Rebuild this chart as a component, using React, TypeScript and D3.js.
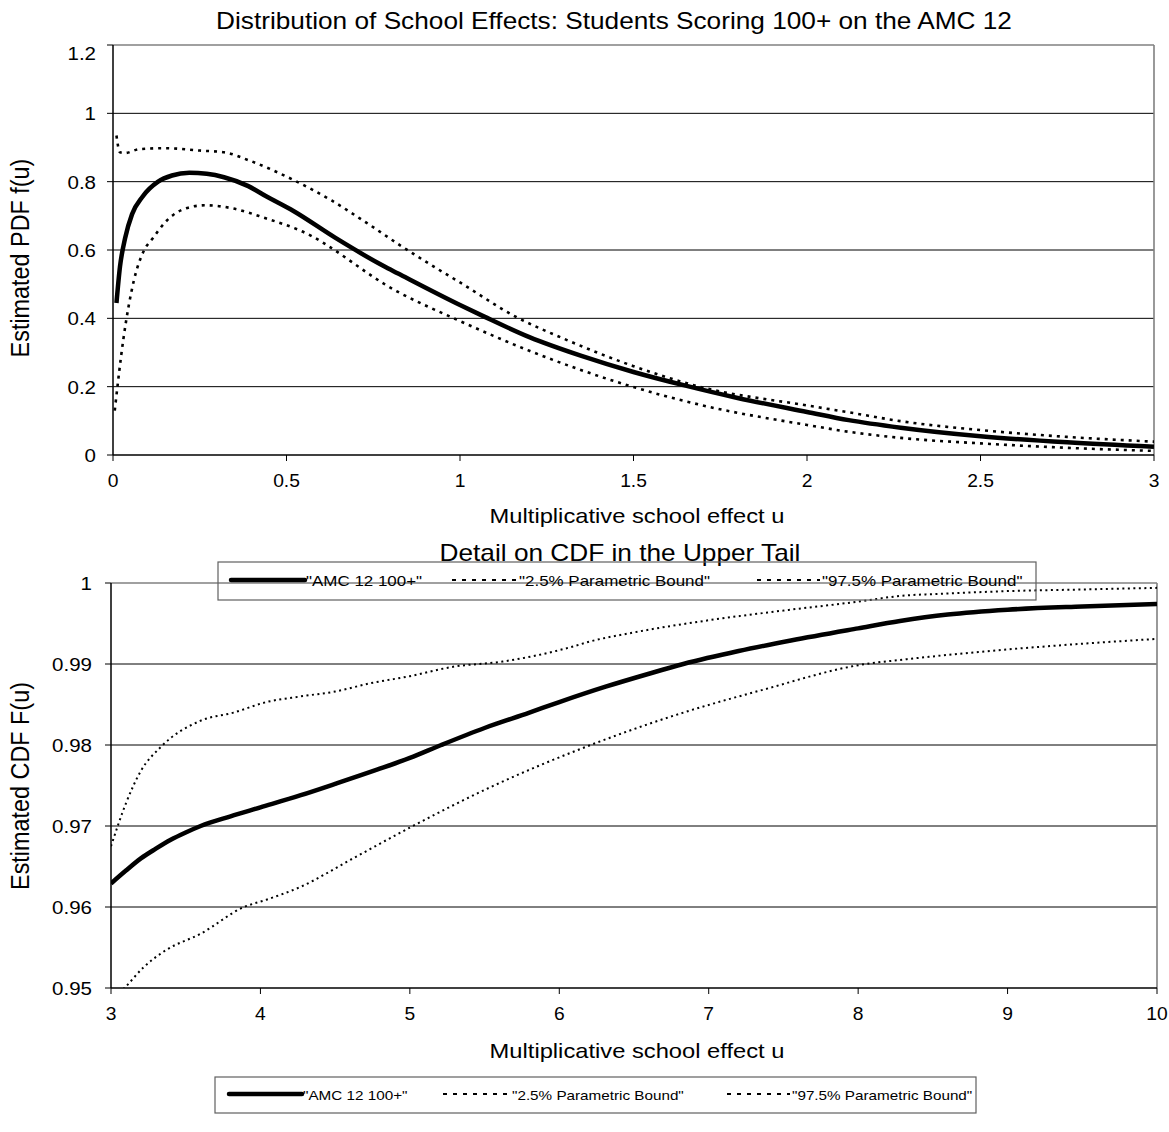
import React from "react";
import * as d3 from "d3";

// ---------- Top chart: estimated PDF ----------
const PDF_X_TICKS = [0, 0.5, 1, 1.5, 2, 2.5, 3];
const PDF_X_LABELS = ["0", "0.5", "1", "1.5", "2", "2.5", "3"];
const PDF_Y_TICKS = [0, 0.2, 0.4, 0.6, 0.8, 1, 1.2];
const PDF_Y_LABELS = ["0", "0.2", "0.4", "0.6", "0.8", "1", "1.2"];

const PDF_FIT_U = [0.01, 0.02, 0.035, 0.055, 0.085, 0.13, 0.17, 0.22, 0.27, 0.32, 0.39, 0.44, 0.52, 0.64, 0.78, 0.82, 1.0, 1.07, 1.2, 1.35, 1.5, 1.65, 1.8, 2.0, 2.12, 2.27, 2.5, 2.75, 3.0];
const PDF_FIT = [0.445, 0.55, 0.635, 0.705, 0.756, 0.8, 0.818, 0.826, 0.823, 0.813, 0.787, 0.758, 0.714, 0.636, 0.553, 0.532, 0.439, 0.405, 0.345, 0.29, 0.243, 0.203, 0.167, 0.126, 0.102, 0.08, 0.055, 0.037, 0.024];

const PDF_HI_U = [0.01, 0.02, 0.035, 0.075, 0.15, 0.25, 0.32, 0.39, 0.52, 0.63, 0.73, 0.83, 0.93, 1.0, 1.16, 1.3, 1.5, 1.69, 2.0, 2.12, 2.27, 2.5, 2.75, 3.0];
const PDF_HI = [0.935, 0.886, 0.884, 0.895, 0.898, 0.891, 0.886, 0.863, 0.805, 0.745, 0.68, 0.612, 0.548, 0.505, 0.405, 0.34, 0.26, 0.2, 0.145, 0.125, 0.099, 0.073, 0.053, 0.039];

const PDF_LO_U = [0.005, 0.03, 0.06, 0.09, 0.113, 0.152, 0.21, 0.267, 0.344, 0.44, 0.537, 0.82, 1.0, 1.2, 1.48, 1.7, 2.0, 2.12, 2.27, 2.5, 2.75, 3.0];
const PDF_LO = [0.13, 0.34, 0.51, 0.6, 0.632, 0.683, 0.722, 0.731, 0.722, 0.693, 0.658, 0.478, 0.392, 0.305, 0.205, 0.145, 0.088, 0.068, 0.05, 0.034, 0.021, 0.012];

// ---------- Bottom chart: CDF upper tail ----------
const CDF_X_TICKS = [3, 4, 5, 6, 7, 8, 9, 10];
const CDF_X_LABELS = ["3", "4", "5", "6", "7", "8", "9", "10"];
const CDF_Y_TICKS = [0.95, 0.96, 0.97, 0.98, 0.99, 1];
const CDF_Y_LABELS = ["0.95", "0.96", "0.97", "0.98", "0.99", "1"];

const CDF_FIT_U = [3, 3.1, 3.2, 3.3, 3.4, 3.5, 3.6, 3.8, 4.0, 4.27, 4.5, 4.78, 5.0, 5.21, 5.5, 5.8, 6.0, 6.31, 6.6, 6.83, 7.2, 7.55, 8.0, 8.28, 8.6, 9.0, 9.5, 10];
const CDF_FIT = [0.9629, 0.9645, 0.966, 0.9672, 0.9683, 0.9692, 0.97, 0.9712, 0.9723, 0.9738, 0.9752, 0.97695, 0.9784, 0.98, 0.9821, 0.984, 0.9853, 0.9872, 0.9888, 0.99, 0.9916, 0.9929, 0.9944, 0.9953, 0.9961, 0.9967, 0.9971, 0.9974];

const CDF_HI_U = [3, 3.1, 3.2, 3.33, 3.6, 3.82, 4.04, 4.27, 4.5, 4.73, 5.0, 5.29, 5.62, 6.06, 6.21, 6.5, 7.0, 7.5, 8.0, 8.28, 8.6, 9.0, 9.5, 10];
const CDF_HI = [0.9675, 0.9728, 0.9768, 0.9797, 0.983, 0.984, 0.9853, 0.986, 0.9866, 0.9876, 0.9885, 0.98966, 0.9903, 0.992, 0.9928, 0.9939, 0.9954, 0.9966, 0.9977, 0.9984, 0.9987, 0.999, 0.9992, 0.9994];

const CDF_LO_U = [3.0, 3.09, 3.22, 3.37, 3.6, 3.89, 4.04, 4.27, 4.6, 5.01, 5.54, 6.21, 6.83, 7.34, 8.05, 8.28, 9.0, 9.5, 10];
const CDF_LO = [0.9485, 0.95, 0.9526, 0.9547, 0.9567, 0.96, 0.9609, 0.9625, 0.9658, 0.9699, 0.9748, 0.98, 0.984, 0.9867, 0.99, 0.9905, 0.9918, 0.9925, 0.9931];

const LEGEND_LABELS = ['"AMC 12 100+"', '"2.5% Parametric Bound"', '"97.5% Parametric Bound"'];

const FONT = "'Liberation Sans', Arial, sans-serif";

function T(props: { x: number; y: number; size: number; sx?: number; sy?: number; rot?: boolean; anchor?: string; children: any }) {
  const { x, y, size, sx = 1, sy = 1, rot = false, anchor = "start" } = props;
  return (
    <text transform={`translate(${x},${y})${rot ? " rotate(-90)" : ""} scale(${sx},${sy})`}
      textAnchor={anchor} fontSize={size} fontFamily={FONT} fill="#000">{props.children}</text>
  );
}

type Series = { u: number[]; v: number[]; solid: boolean };

function Panel(props: {
  id: string;
  left: number; right: number; top: number; bottom: number;
  xDomain: [number, number]; yDomain: [number, number];
  xTicks: number[]; xLabels: string[];
  yTicks: number[]; yLabels: string[];
  series: Series[];
  solidWidth: number; dotWidth: number; dash: string;
  title: string; titleX: number; titleY: number;
  yTitle: string; yTitleY: number;
  xTitle: string; xTitleX: number; xTitleY: number;
  xLabelY: number; yLabelGap: number; topLabelMin?: number;
}) {
  const p = props;
  const x = d3.scaleLinear().domain(p.xDomain).range([p.left, p.right]);
  const y = d3.scaleLinear().domain(p.yDomain).range([p.bottom, p.top]);
  return (
    <g>
      <defs>
        <clipPath id={p.id}>
          <rect x={p.left} y={p.top} width={p.right - p.left} height={p.bottom - p.top} />
        </clipPath>
      </defs>
      {p.yTicks.slice(1, -1).map((t, i) => (
        <line key={"g" + i} x1={p.left} x2={p.right} y1={y(t)} y2={y(t)} stroke="#000" strokeWidth={1} />
      ))}
      <line x1={p.left} x2={p.right} y1={p.top} y2={p.top} stroke="#808080" strokeWidth={1.6} />
      <line x1={p.right} x2={p.right} y1={p.top} y2={p.bottom} stroke="#808080" strokeWidth={1.6} />
      <g clipPath={`url(#${p.id})`}>
        {p.series.map((s, i) => {
          const pts = s.u.map((u, j) => [u, s.v[j]] as [number, number]);
          const line = d3.line<[number, number]>().x(d => x(d[0])).y(d => y(d[1])).curve(d3.curveMonotoneX);
          return (
            <path key={"s" + i} d={line(pts) || ""} fill="none" stroke="#000"
              strokeWidth={s.solid ? p.solidWidth : p.dotWidth}
              strokeDasharray={s.solid ? undefined : p.dash}
              strokeLinejoin="round" />
          );
        })}
      </g>
      <line x1={p.left} x2={p.left} y1={p.top} y2={p.bottom} stroke="#000" strokeWidth={1.5} />
      <line x1={p.left} x2={p.right} y1={p.bottom} y2={p.bottom} stroke="#000" strokeWidth={1.5} />
      {p.yTicks.map((t, i) => (
        <line key={"yt" + i} x1={p.left - 6} x2={p.left} y1={y(t)} y2={y(t)} stroke="#000" strokeWidth={1} />
      ))}
      {p.xTicks.map((t, i) => (
        <line key={"xt" + i} x1={x(t)} x2={x(t)} y1={p.bottom} y2={p.bottom + 6} stroke="#000" strokeWidth={1} />
      ))}
      {p.yTicks.map((t, i) => (
        <T key={"yl" + i} x={p.left - p.yLabelGap} y={Math.max(y(t), p.topLabelMin ?? -1e9) + 7}
          size={19} sx={1.08} anchor="end">{p.yLabels[i]}</T>
      ))}
      {p.xTicks.map((t, i) => (
        <T key={"xl" + i} x={x(t)} y={p.xLabelY} size={17.5} sx={1.1} anchor="middle">{p.xLabels[i]}</T>
      ))}
      <T x={p.titleX} y={p.titleY} size={23} sx={1.14} anchor="middle">{p.title}</T>
      <T x={p.xTitleX} y={p.xTitleY} size={21} sx={1.13} anchor="middle">{p.xTitle}</T>
      <T x={29} y={p.yTitleY} size={23.4} sy={1.1} rot anchor="middle">{p.yTitle}</T>
    </g>
  );
}

function Legend(props: { top: number; bottom: number; left: number; right: number; pos: number[]; size: number }) {
  const p = props;
  const my = (p.top + p.bottom) / 2;
  const [s1a, s1b, t1, s2a, s2b, t2, s3a, s3b, t3] = p.pos;
  return (
    <g>
      <rect x={p.left} y={p.top} width={p.right - p.left} height={p.bottom - p.top} fill="none" stroke="#606060" strokeWidth={1.2} />
      <line x1={s1a} x2={s1b} y1={my - 1} y2={my - 1} stroke="#000" strokeWidth={4.5} strokeLinecap="round" />
      <line x1={s2a} x2={s2b} y1={my - 1} y2={my - 1} stroke="#000" strokeWidth={2} strokeDasharray="4 6" />
      <line x1={s3a} x2={s3b} y1={my - 1} y2={my - 1} stroke="#000" strokeWidth={2} strokeDasharray="4 6" />
      {[t1, t2, t3].map((tx, i) => (
        <T key={i} x={tx} y={my + 5} size={p.size} sx={1.13}>{LEGEND_LABELS[i]}</T>
      ))}
    </g>
  );
}

export default function App() {
  return (
    <svg width={1169} height={1132} style={{ position: "absolute", left: 0, top: 0, background: "#fff" }}>
      <rect x={0} y={0} width={1169} height={1132} fill="#fff" />
      <Panel id="clipTop" left={113} right={1154} top={45} bottom={455}
        xDomain={[0, 3]} yDomain={[0, 1.2]}
        xTicks={PDF_X_TICKS} xLabels={PDF_X_LABELS} yTicks={PDF_Y_TICKS} yLabels={PDF_Y_LABELS}
        series={[
          { u: PDF_HI_U, v: PDF_HI, solid: false },
          { u: PDF_LO_U, v: PDF_LO, solid: false },
          { u: PDF_FIT_U, v: PDF_FIT, solid: true },
        ]}
        solidWidth={4.5} dotWidth={2.6} dash="3 5"
        title="Distribution of School Effects: Students Scoring 100+ on the AMC 12" titleX={614} titleY={29}
        yTitle="Estimated PDF f(u)" yTitleY={258}
        xTitle="Multiplicative school effect u" xTitleX={637} xTitleY={523}
        xLabelY={487} yLabelGap={17} topLabelMin={53} />
      <Panel id="clipBot" left={111} right={1157} top={583} bottom={988}
        xDomain={[3, 10]} yDomain={[0.95, 1]}
        xTicks={CDF_X_TICKS} xLabels={CDF_X_LABELS} yTicks={CDF_Y_TICKS} yLabels={CDF_Y_LABELS}
        series={[
          { u: CDF_HI_U, v: CDF_HI, solid: false },
          { u: CDF_LO_U, v: CDF_LO, solid: false },
          { u: CDF_FIT_U, v: CDF_FIT, solid: true },
        ]}
        solidWidth={4.5} dotWidth={2} dash="2 3.5"
        title="Detail on CDF in the Upper Tail" titleX={620} titleY={561}
        yTitle="Estimated CDF F(u)" yTitleY={786}
        xTitle="Multiplicative school effect u" xTitleX={637} xTitleY={1058}
        xLabelY={1020} yLabelGap={19} />
      <Legend top={562} bottom={600} left={218} right={1036}
        pos={[231, 305, 306, 452, 517, 519, 757, 820, 822]} size={15} />
      <Legend top={1077} bottom={1113} left={215} right={976}
        pos={[229, 302, 303, 443, 510, 512, 727, 790, 792]} size={13.5} />
    </svg>
  );
}
